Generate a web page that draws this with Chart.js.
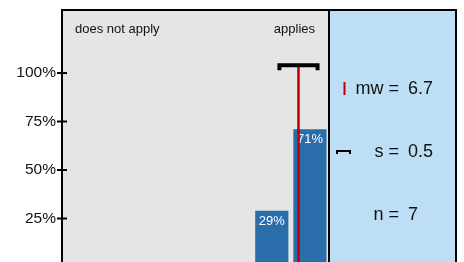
<!DOCTYPE html>
<html>
<head>
<meta charset="utf-8">
<script src="https://cdn.jsdelivr.net/npm/chart.js@4.4.0/dist/chart.umd.min.js"></script>
<style>
body { margin: 0; background: #fff; }
#wrap { width: 464px; height: 262px; overflow: hidden; }
</style>
</head>
<body>
<div id="wrap"><canvas id="myChart" width="464" height="280"></canvas></div>
<script>
// answer scale 1..7, share of answers per point
const scalePoints = ['1', '2', '3', '4', '5', '6', '7'];
const shares = [null, null, null, null, null, 29, 71];
const yTicks = [25, 50, 75, 100];
const endLabels = ['does not apply', 'applies'];
const mw = 6.7;
const sd = 0.5;
const n = 7;

const FONT = '"Liberation Sans", Arial, sans-serif';

const extras = {
    id: 'extras',
    beforeDraw(chart) {
        const ctx = chart.ctx;
        const a = chart.chartArea;
        ctx.save();
        ctx.fillStyle = '#e5e5e5';
        ctx.fillRect(a.left, a.top, a.right - a.left, a.bottom - a.top);
        ctx.fillStyle = '#bddef5';
        ctx.fillRect(a.right, a.top, 456 - a.right, a.bottom - a.top);
        ctx.restore();
    },
    afterDatasetsDraw(chart) {
        const ctx = chart.ctx;
        const a = chart.chartArea;
        const x = chart.scales.x;
        const y = chart.scales.y;
        ctx.save();

        // end labels of the scale
        ctx.fillStyle = '#111';
        ctx.font = '13px ' + FONT;
        ctx.textBaseline = 'middle';
        ctx.textAlign = 'left';
        ctx.fillText(endLabels[0], a.left + 13, a.top + 19);
        ctx.textAlign = 'right';
        ctx.fillText(endLabels[1], a.right - 14, a.top + 19);

        // value labels in bars
        ctx.fillStyle = '#fff';
        ctx.font = '13px ' + FONT;
        ctx.textAlign = 'center';
        ctx.textBaseline = 'alphabetic';
        chart.getDatasetMeta(0).data.forEach((bar, i) => {
            if (shares[i] == null) return;
            ctx.fillText(shares[i] + '%', bar.x, bar.y + 14);
        });

        // mean line and +/- s bracket
        const level = 104;
        const xm = x.getPixelForValue(mw - 1);
        ctx.strokeStyle = '#c00000';
        ctx.lineWidth = 2.5;
        ctx.beginPath();
        ctx.moveTo(xm, y.getPixelForValue(0));
        ctx.lineTo(xm, y.getPixelForValue(level));
        ctx.stroke();

        const x1 = x.getPixelForValue(mw - sd - 1);
        const x2 = x.getPixelForValue(mw + sd - 1);
        const yl = y.getPixelForValue(level);
        ctx.strokeStyle = '#000';
        ctx.lineWidth = 4;
        ctx.lineJoin = 'miter';
        ctx.beginPath();
        ctx.moveTo(x1, yl + 5);
        ctx.lineTo(x1, yl);
        ctx.lineTo(x2, yl);
        ctx.lineTo(x2, yl + 5);
        ctx.stroke();

        // frame
        ctx.lineWidth = 2;
        ctx.beginPath();
        ctx.moveTo(a.left, 280);
        ctx.lineTo(a.left, a.top);
        ctx.lineTo(456, a.top);
        ctx.lineTo(456, 280);
        ctx.moveTo(a.right, a.top);
        ctx.lineTo(a.right, 280);
        ctx.stroke();

        // y ticks crossing the axis
        yTicks.forEach(t => {
            const py = y.getPixelForValue(t);
            ctx.beginPath();
            ctx.moveTo(a.left - 5, py);
            ctx.lineTo(a.left + 5, py);
            ctx.stroke();
        });

        // side panel with stats
        const px = a.right;
        ctx.strokeStyle = '#c00000';
        ctx.lineWidth = 2;
        ctx.beginPath();
        ctx.moveTo(px + 15.5, a.top + 72);
        ctx.lineTo(px + 15.5, a.top + 85);
        ctx.stroke();

        ctx.strokeStyle = '#000';
        ctx.lineWidth = 2;
        ctx.beginPath();
        ctx.moveTo(px + 8, a.top + 144);
        ctx.lineTo(px + 8, a.top + 141);
        ctx.lineTo(px + 21, a.top + 141);
        ctx.lineTo(px + 21, a.top + 144);
        ctx.stroke();

        ctx.fillStyle = '#111';
        ctx.font = '18px ' + FONT;
        ctx.textBaseline = 'middle';
        const rows = [['mw =', mw], ['s =', sd], ['n =', n]];
        rows.forEach((r, i) => {
            const ry = a.top + 79 + i * 63;
            ctx.textAlign = 'right';
            ctx.fillText(r[0], px + 70, ry);
            ctx.textAlign = 'left';
            ctx.fillText(String(r[1]), px + 79, ry);
        });

        ctx.restore();
    }
};

const ctx = document.getElementById('myChart').getContext('2d');

const myChart = new Chart(ctx, {
    type: 'bar',
    data: {
        labels: scalePoints,
        datasets: [{
            data: shares,
            backgroundColor: '#2a6dab',
            borderWidth: 0,
            categoryPercentage: 1,
            barPercentage: 0.87
        }]
    },
    options: {
        responsive: false,
        animation: false,
        layout: { padding: { top: 10, right: 135, bottom: 13, left: 0 } },
        plugins: {
            legend: { display: false },
            tooltip: { enabled: false }
        },
        scales: {
            x: {
                display: false,
                offset: true
            },
            y: {
                min: 0,
                max: 132.5,
                afterFit(scale) {
                    scale.width = 62;
                    scale.paddingTop = 0;
                    scale.paddingBottom = 0;
                },
                grid: { display: false, drawTicks: false },
                border: { display: false },
                ticks: {
                    stepSize: 25,
                    padding: 6,
                    color: '#111',
                    font: { family: FONT, size: 15.5 },
                    callback: v => (yTicks.includes(v) ? v + '%' : '')
                }
            }
        }
    },
    plugins: [extras]
});
</script>
</body>
</html>
